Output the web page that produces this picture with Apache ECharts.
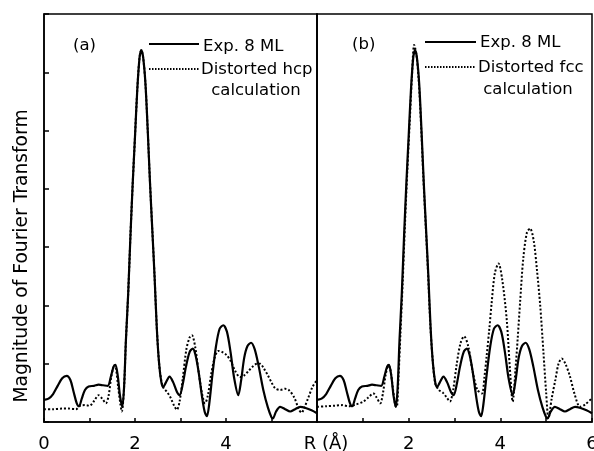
<!DOCTYPE html>
<html>
<head>
<meta charset="utf-8">
<script src="https://cdn.jsdelivr.net/npm/echarts@6/dist/echarts.min.js"></script>
<style>html,body{margin:0;padding:0;background:#fff}#c{width:594px;height:451px}</style>
</head>
<body>
<div id="c"></div>
<script>
// Experimental data (same in both panels): [R, magnitude]
var expData = [[0,0.38],[0.1,0.40],[0.2,0.48],[0.3,0.62],[0.4,0.75],[0.5,0.79],[0.58,0.72],[0.65,0.52],[0.72,0.32],[0.77,0.27],[0.83,0.40],[0.9,0.55],[0.98,0.61],[1.1,0.62],[1.2,0.64],[1.3,0.63],[1.4,0.62],[1.47,0.78],[1.53,0.95],[1.57,0.98],[1.62,0.8],[1.67,0.45],[1.72,0.26],[1.76,0.6],[1.80,1.4],[1.85,2.2],[1.90,3.2],[1.95,4.1],[2.00,4.9],[2.05,5.7],[2.10,6.25],[2.14,6.38],[2.18,6.25],[2.23,5.8],[2.28,5.0],[2.33,4.1],[2.38,3.3],[2.43,2.5],[2.48,1.6],[2.53,1.0],[2.58,0.68],[2.62,0.6],[2.68,0.68],[2.76,0.78],[2.84,0.68],[2.92,0.52],[2.98,0.46],[3.05,0.65],[3.12,0.95],[3.2,1.2],[3.27,1.26],[3.33,1.15],[3.4,0.85],[3.47,0.45],[3.53,0.18],[3.58,0.10],[3.63,0.3],[3.7,0.8],[3.78,1.3],[3.86,1.6],[3.94,1.66],[4.02,1.55],[4.1,1.2],[4.18,0.75],[4.27,0.46],[4.33,0.7],[4.4,1.1],[4.47,1.3],[4.55,1.36],[4.63,1.25],[4.72,0.95],[4.82,0.55],[4.92,0.25],[5.0,0.08],[5.03,0.06],[5.1,0.18],[5.19,0.26],[5.3,0.22],[5.41,0.18],[5.52,0.22],[5.63,0.26],[5.75,0.24],[5.88,0.2],[6.0,0.15]];
// Distorted hcp calculation (panel a)
var hcpData = [[0,0.22],[0.2,0.22],[0.4,0.23],[0.55,0.23],[0.7,0.22],[0.8,0.28],[0.9,0.29],[1.0,0.28],[1.1,0.36],[1.2,0.46],[1.28,0.40],[1.36,0.32],[1.42,0.45],[1.48,0.78],[1.54,0.95],[1.58,0.92],[1.63,0.6],[1.68,0.3],[1.71,0.18],[1.76,0.6],[1.80,1.4],[1.85,2.2],[1.90,3.2],[1.95,4.1],[2.00,4.9],[2.05,5.7],[2.10,6.25],[2.14,6.38],[2.18,6.25],[2.23,5.8],[2.28,5.0],[2.33,4.1],[2.38,3.3],[2.43,2.5],[2.48,1.6],[2.53,1.0],[2.58,0.7],[2.63,0.58],[2.70,0.52],[2.78,0.42],[2.86,0.28],[2.92,0.21],[2.98,0.35],[3.05,0.75],[3.13,1.25],[3.2,1.45],[3.25,1.49],[3.32,1.3],[3.4,0.85],[3.47,0.5],[3.54,0.32],[3.6,0.45],[3.67,0.8],[3.75,1.1],[3.83,1.22],[3.92,1.2],[4.01,1.15],[4.1,1.05],[4.2,0.88],[4.31,0.77],[4.4,0.8],[4.5,0.88],[4.6,0.96],[4.68,1.0],[4.75,1.0],[4.83,0.92],[4.92,0.8],[5.0,0.68],[5.08,0.58],[5.19,0.55],[5.3,0.57],[5.38,0.55],[5.5,0.42],[5.6,0.22],[5.66,0.16],[5.73,0.26],[5.81,0.42],[5.9,0.6],[6.0,0.72]];
// Distorted fcc calculation (panel b)
var fccData = [[0,0.26],[0.2,0.27],[0.4,0.28],[0.55,0.29],[0.7,0.27],[0.85,0.3],[1.01,0.35],[1.12,0.42],[1.23,0.49],[1.3,0.42],[1.38,0.32],[1.44,0.5],[1.5,0.82],[1.56,0.97],[1.6,0.9],[1.66,0.55],[1.71,0.28],[1.74,0.26],[1.78,0.8],[1.82,1.5],[1.87,2.4],[1.92,3.4],[1.97,4.3],[2.02,5.1],[2.07,5.9],[2.12,6.47],[2.17,6.3],[2.22,5.85],[2.27,5.1],[2.32,4.2],[2.37,3.4],[2.42,2.6],[2.47,1.7],[2.52,1.1],[2.58,0.66],[2.66,0.55],[2.75,0.5],[2.83,0.42],[2.9,0.35],[2.97,0.55],[3.05,1.0],[3.13,1.35],[3.21,1.47],[3.3,1.3],[3.4,0.85],[3.5,0.55],[3.6,0.49],[3.65,0.75],[3.7,1.12],[3.76,1.6],[3.81,2.04],[3.88,2.55],[3.96,2.72],[4.04,2.45],[4.14,1.75],[4.21,0.9],[4.27,0.35],[4.33,0.9],[4.38,1.45],[4.43,2.04],[4.5,2.8],[4.58,3.25],[4.65,3.32],[4.73,3.1],[4.8,2.6],[4.87,2.0],[4.94,1.2],[5.0,0.5],[5.05,0.06],[5.12,0.4],[5.2,0.72],[5.27,1.0],[5.34,1.09],[5.42,1.0],[5.52,0.78],[5.62,0.48],[5.74,0.26],[5.85,0.3],[6.0,0.41]];
var xTicks = [0, 2, 4, 6];
var yAxisTitle = 'Magnitude of Fourier Transform';
var xAxisTitle = 'R (Å)';

var FONT = 'DejaVu Sans';
var chart = echarts.init(document.getElementById('c'), null, {renderer: 'canvas'});

function xAxisCfg(idx, showFn) {
  return {
    gridIndex: idx, type: 'value', min: 0, max: 6, interval: 1,
    axisLine: {lineStyle: {color: '#000', width: 1.5}},
    axisTick: {inside: true, length: 4, lineStyle: {color: '#000', width: 1.5}},
    axisLabel: {color: '#000', fontSize: 18, fontFamily: FONT, margin: 13, hideOverlap: false,
      formatter: function (v) { return showFn(v) ? String(v) : ''; }},
    splitLine: {show: false}
  };
}
function yAxisCfg(idx, ticks) {
  return {
    gridIndex: idx, type: 'value', min: 0, max: 7, interval: 1,
    axisLine: {show: true, lineStyle: {color: '#000', width: 1.5}},
    axisTick: {show: ticks, inside: true, length: 5, lineStyle: {color: '#000', width: 1.5}},
    axisLabel: {show: false},
    splitLine: {show: false}
  };
}
function lineSeries(xi, data, dotted) {
  return {
    type: 'line', xAxisIndex: xi, yAxisIndex: xi, data: data,
    showSymbol: false, smooth: 0.3, animation: false,
    lineStyle: {color: '#000', width: dotted ? 2 : 2.2, type: dotted ? [2, 2] : 'solid'},
    clip: true
  };
}
function legendGraphics(label, lx, lyText, lineX1, lineX2, lySolid, lyDot, lyDistText, distX, distName, calcX, calcY, solidY) {
  var ts = {fill: '#000', fontSize: 16.5, fontFamily: FONT};
  return [
    {type: 'text', x: lx, y: lyText, style: Object.assign({text: label, verticalAlign: 'middle', align: 'left'}, ts)},
    {type: 'line', shape: {x1: lineX1, y1: lySolid, x2: lineX2, y2: lySolid}, style: {stroke: '#000', lineWidth: 2}},
    {type: 'text', x: lineX2 + 4, y: solidY, style: Object.assign({text: 'Exp. 8 ML', verticalAlign: 'middle', align: 'left'}, ts)},
    {type: 'line', shape: {x1: lineX1, y1: lyDot, x2: lineX2, y2: lyDot}, style: {stroke: '#000', lineWidth: 1.8, lineDash: [1.5, 1.5]}},
    {type: 'text', x: distX, y: lyDistText, style: Object.assign({text: distName, verticalAlign: 'middle', align: 'left'}, ts)},
    {type: 'text', x: calcX, y: calcY, style: Object.assign({text: 'calculation', verticalAlign: 'middle', align: 'center'}, ts)}
  ];
}

var graphics = [];
graphics = graphics.concat(legendGraphics('(a)', 73, 46, 149, 199, 44, 69, 70, 201, 'Distorted hcp', 256, 91, 47));
graphics = graphics.concat(legendGraphics('(b)', 352, 45, 425, 476, 42, 67, 68, 478, 'Distorted fcc', 528, 90, 43));
graphics.push({type: 'text', x: 22, y: 256, rotation: Math.PI / 2,
  style: {text: yAxisTitle, fill: '#000', fontSize: 18.7, fontFamily: FONT, align: 'center', verticalAlign: 'middle'}});
graphics.push({type: 'text', x: 326, y: 444,
  style: {text: xAxisTitle, fill: '#000', fontSize: 18, fontFamily: FONT, align: 'center', verticalAlign: 'middle'}});

var option = {
  animation: false,
  backgroundColor: '#fff',
  grid: [
    {left: 44, top: 14, width: 273, height: 408, show: true, borderColor: '#000', borderWidth: 1.5, backgroundColor: 'transparent', containLabel: false, outerBoundsMode: 'none'},
    {left: 317, top: 14, width: 275, height: 408, show: true, borderColor: '#000', borderWidth: 1.5, backgroundColor: 'transparent', containLabel: false, outerBoundsMode: 'none'}
  ],
  xAxis: [
    xAxisCfg(0, function (v) { return xTicks.indexOf(v) >= 0 && v < 6; }),
    xAxisCfg(1, function (v) { return xTicks.indexOf(v) >= 0 && v > 0; })
  ],
  yAxis: [yAxisCfg(0, true), yAxisCfg(1, false)],
  series: [
    lineSeries(0, expData, false),
    lineSeries(0, hcpData, true),
    lineSeries(1, expData, false),
    lineSeries(1, fccData, true)
  ],
  graphic: graphics
};
chart.setOption(option);
</script>
</body>
</html>
